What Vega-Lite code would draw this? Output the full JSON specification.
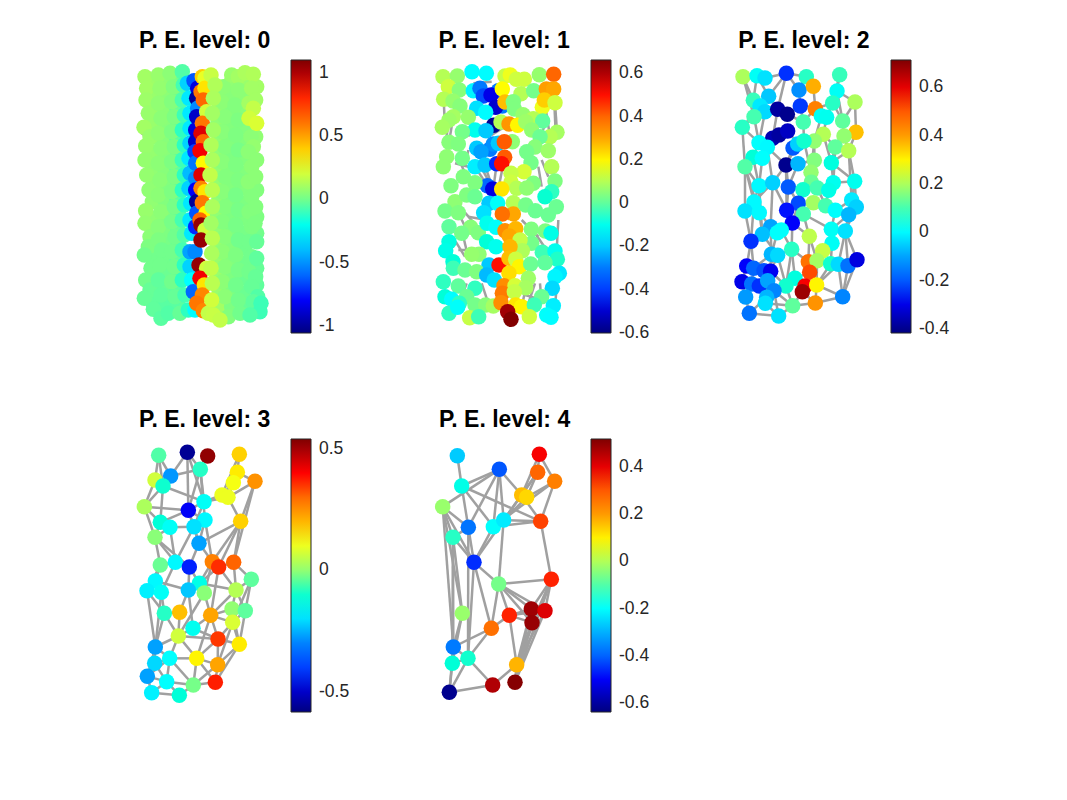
{
"$schema":"https://vega.github.io/schema/vega-lite/v6.json",
"background":"white",
"padding":{"left":135,"top":30,"right":0,"bottom":0},
"columns":3,
"spacing":{"row":106,"column":144},
"bounds":"flush",
"resolve":{"scale":{"color":"independent"},"legend":{"color":"independent"}},
"config":{"view":{"stroke":null},
"font":"Liberation Sans",
"title":{"font":"Liberation Sans","fontSize":23,"fontWeight":"bold","color":"#000000","anchor":"start","dx":4,"offset":7},
"legend":{"orient":"right","offset":0,"padding":0,"title":null,"gradientLength":273,"gradientThickness":20,"gradientStrokeColor":"#262626","gradientStrokeWidth":1,"labelFont":"Liberation Sans","labelFontSize":17.5,"labelColor":"#262626","labelOverlap":false},
"rule":{"color":"#a0a0a0","strokeWidth":2.5},
"point":{"filled":true,"opacity":1,"size":240,"strokeWidth":0}},
"datasets":{
"n0":[
{"x":82,"y":188,"v":0.09},{"x":84,"y":232,"v":0.08},{"x":80,"y":262,"v":0.08},{"x":84,"y":305,"v":0.08},{"x":82,"y":350,"v":0.07},{"x":85,"y":395,"v":0.07},{"x":82,"y":445,"v":0.06},{"x":85,"y":490,"v":0.06},{"x":82,"y":545,"v":0.06},{"x":85,"y":595,"v":0.06},{"x":84,"y":635,"v":0.04},{"x":82,"y":665,"v":0.02},{"x":82,"y":715,"v":0},{"x":84,"y":760,"v":-0.01},{"x":82,"y":800,"v":-0.02},{"x":84,"y":850,"v":-0.03},
{"x":122,"y":180,"v":0.06},{"x":124,"y":225,"v":0.05},{"x":120,"y":270,"v":0.05},{"x":124,"y":315,"v":0.04},{"x":120,"y":360,"v":0.04},{"x":124,"y":405,"v":0.04},{"x":120,"y":450,"v":0.04},{"x":124,"y":495,"v":0.03},{"x":120,"y":540,"v":0.03},{"x":124,"y":590,"v":0.03},{"x":122,"y":635,"v":0.02},{"x":122,"y":675,"v":0.01},{"x":124,"y":715,"v":0},{"x":120,"y":760,"v":-0.01},{"x":124,"y":805,"v":-0.02},{"x":122,"y":855,"v":-0.04},
{"x":158,"y":178,"v":0},{"x":160,"y":222,"v":-0.01},{"x":156,"y":265,"v":-0.02},{"x":160,"y":310,"v":-0.03},{"x":156,"y":355,"v":-0.04},{"x":160,"y":400,"v":-0.04},{"x":156,"y":445,"v":-0.03},{"x":160,"y":490,"v":-0.04},{"x":156,"y":535,"v":-0.04},{"x":160,"y":580,"v":-0.04},{"x":158,"y":625,"v":-0.02},{"x":160,"y":670,"v":-0.02},{"x":156,"y":715,"v":-0.03},{"x":160,"y":760,"v":-0.04},{"x":156,"y":805,"v":-0.04},{"x":158,"y":850,"v":-0.04},
{"x":60,"y":170,"v":0.1},{"x":65,"y":205,"v":0.1},{"x":63,"y":240,"v":0.09},{"x":70,"y":280,"v":0.08},{"x":57,"y":322,"v":0.1},{"x":75,"y":350,"v":0.08},{"x":62,"y":378,"v":0.08},{"x":60,"y":420,"v":0.07},{"x":65,"y":465,"v":0.07},{"x":72,"y":510,"v":0.06},{"x":62,"y":572,"v":0.08},{"x":60,"y":610,"v":0.07},{"x":75,"y":650,"v":0.05},{"x":70,"y":680,"v":0.02},{"x":58,"y":705,"v":0},{"x":78,"y":745,"v":0},{"x":62,"y":780,"v":0},{"x":75,"y":810,"v":-0.02},{"x":58,"y":835,"v":-0.02},{"x":85,"y":868,"v":-0.03},{"x":108,"y":895,"v":-0.04},
{"x":100,"y":165,"v":0.08},{"x":105,"y":205,"v":0.07},{"x":100,"y":250,"v":0.06},{"x":108,"y":295,"v":0.05},{"x":100,"y":340,"v":0.06},{"x":108,"y":385,"v":0.05},{"x":100,"y":430,"v":0.05},{"x":105,"y":480,"v":0.05},{"x":100,"y":525,"v":0.05},{"x":108,"y":575,"v":0.05},{"x":100,"y":620,"v":0.04},{"x":100,"y":660,"v":0.02},{"x":110,"y":690,"v":0},{"x":105,"y":735,"v":0},{"x":100,"y":780,"v":-0.03},{"x":108,"y":825,"v":-0.03},{"x":130,"y":880,"v":-0.05},
{"x":135,"y":160,"v":0.05},{"x":145,"y":200,"v":0.03},{"x":140,"y":245,"v":0.03},{"x":148,"y":290,"v":0.02},{"x":140,"y":335,"v":0.02},{"x":148,"y":380,"v":0.02},{"x":140,"y":425,"v":0.02},{"x":148,"y":470,"v":0.02},{"x":140,"y":515,"v":0.02},{"x":148,"y":560,"v":0.01},{"x":140,"y":605,"v":0.01},{"x":150,"y":650,"v":0},{"x":140,"y":695,"v":0},{"x":148,"y":740,"v":0},{"x":140,"y":785,"v":0},{"x":150,"y":830,"v":-0.02},{"x":165,"y":880,"v":-0.02},
{"x":172,"y":155,"v":-0.05},{"x":175,"y":195,"v":-0.07},{"x":172,"y":240,"v":-0.06},{"x":178,"y":285,"v":-0.08},{"x":172,"y":330,"v":-0.1},{"x":178,"y":375,"v":-0.1},{"x":172,"y":420,"v":-0.08},{"x":178,"y":465,"v":-0.1},{"x":172,"y":510,"v":-0.1},{"x":178,"y":555,"v":-0.1},{"x":172,"y":600,"v":-0.07},{"x":178,"y":645,"v":-0.05},{"x":172,"y":690,"v":-0.07},{"x":178,"y":735,"v":-0.1},{"x":172,"y":780,"v":-0.1},{"x":180,"y":825,"v":-0.07},{"x":190,"y":870,"v":-0.1},
{"x":187,"y":190,"v":-0.35},{"x":192,"y":235,"v":-0.3},{"x":195,"y":280,"v":-0.3},{"x":195,"y":325,"v":-0.3},{"x":195,"y":370,"v":-0.35},{"x":192,"y":415,"v":-0.3},{"x":195,"y":460,"v":-0.4},{"x":192,"y":505,"v":-0.35},{"x":197,"y":550,"v":-0.3},{"x":195,"y":600,"v":-0.3},{"x":200,"y":640,"v":-0.3},{"x":195,"y":695,"v":-0.45},{"x":195,"y":740,"v":-0.35},{"x":200,"y":780,"v":-0.25},{"x":205,"y":815,"v":-0.6},{"x":210,"y":870,"v":-0.25},
{"x":207,"y":182,"v":-0.65},{"x":218,"y":205,"v":-0.85},{"x":215,"y":235,"v":-1},{"x":218,"y":265,"v":-0.5},{"x":215,"y":290,"v":-0.9},{"x":212,"y":330,"v":-0.85},{"x":212,"y":365,"v":-0.9},{"x":210,"y":395,"v":-0.7},{"x":212,"y":430,"v":-0.55},{"x":212,"y":475,"v":-0.5},{"x":212,"y":510,"v":-0.8},{"x":215,"y":545,"v":-1},{"x":215,"y":580,"v":-0.65},{"x":212,"y":620,"v":-0.75},{"x":210,"y":695,"v":-0.5},
{"x":232,"y":170,"v":0.4},{"x":240,"y":175,"v":0.25},{"x":228,"y":215,"v":0.6},{"x":240,"y":205,"v":0.35},{"x":235,"y":240,"v":0.65},{"x":245,"y":275,"v":0.2},{"x":232,"y":310,"v":0.6},{"x":228,"y":340,"v":0.9},{"x":235,"y":365,"v":0.65},{"x":225,"y":392,"v":0.85},{"x":235,"y":430,"v":0.3},{"x":228,"y":465,"v":0.9},{"x":228,"y":505,"v":0.55},{"x":240,"y":515,"v":0.35},{"x":232,"y":548,"v":0.6},{"x":243,"y":580,"v":0.3},{"x":225,"y":600,"v":0.65},{"x":228,"y":615,"v":1.05},{"x":240,"y":630,"v":0.2},{"x":228,"y":660,"v":1.05},{"x":222,"y":735,"v":1.05},{"x":245,"y":745,"v":0.2},{"x":225,"y":775,"v":0.85},{"x":238,"y":795,"v":0.35},{"x":232,"y":825,"v":0.55},{"x":215,"y":850,"v":0.6},{"x":235,"y":872,"v":0.55},{"x":250,"y":880,"v":0.17},
{"x":280,"y":225,"v":0.08},{"x":282,"y":265,"v":0.07},{"x":278,"y":310,"v":0.06},{"x":282,"y":355,"v":0.06},{"x":278,"y":400,"v":0.06},{"x":282,"y":445,"v":0.06},{"x":278,"y":490,"v":0.07},{"x":282,"y":535,"v":0.06},{"x":278,"y":585,"v":0.06},{"x":282,"y":630,"v":0.06},{"x":278,"y":675,"v":0.07},{"x":282,"y":720,"v":0.08},{"x":278,"y":765,"v":0.08},{"x":282,"y":810,"v":0.08},{"x":280,"y":860,"v":0.1},
{"x":316,"y":190,"v":0.06},{"x":318,"y":230,"v":0.04},{"x":314,"y":275,"v":0.03},{"x":318,"y":315,"v":0.03},{"x":314,"y":360,"v":0.03},{"x":318,"y":405,"v":0.02},{"x":314,"y":450,"v":0.03},{"x":318,"y":495,"v":0.03},{"x":314,"y":540,"v":0.02},{"x":318,"y":590,"v":0.02},{"x":314,"y":635,"v":0.02},{"x":318,"y":680,"v":0.03},{"x":314,"y":720,"v":0.03},{"x":318,"y":765,"v":0.02},{"x":314,"y":810,"v":0.02},{"x":320,"y":860,"v":0.02},
{"x":356,"y":190,"v":0.08},{"x":358,"y":230,"v":0.05},{"x":354,"y":275,"v":0.04},{"x":358,"y":320,"v":0.03},{"x":354,"y":365,"v":0.03},{"x":358,"y":415,"v":0.03},{"x":354,"y":460,"v":0.03},{"x":358,"y":505,"v":0.03},{"x":354,"y":550,"v":0.02},{"x":358,"y":595,"v":0.02},{"x":354,"y":640,"v":0.01},{"x":358,"y":685,"v":0},{"x":354,"y":730,"v":0},{"x":358,"y":775,"v":-0.01},{"x":354,"y":820,"v":-0.01},{"x":358,"y":865,"v":-0.02},
{"x":395,"y":200,"v":0.1},{"x":392,"y":350,"v":0.06},{"x":395,"y":510,"v":0.03},{"x":395,"y":590,"v":0.02},{"x":395,"y":640,"v":0},{"x":395,"y":745,"v":-0.02},{"x":395,"y":795,"v":-0.03},
{"x":295,"y":200,"v":0.05},{"x":290,"y":245,"v":0.05},{"x":300,"y":290,"v":0.04},{"x":292,"y":335,"v":0.04},{"x":300,"y":380,"v":0.03},{"x":292,"y":425,"v":0.04},{"x":300,"y":470,"v":0.03},{"x":292,"y":515,"v":0.04},{"x":300,"y":560,"v":0.03},{"x":292,"y":605,"v":0.03},{"x":300,"y":650,"v":0.04},{"x":292,"y":695,"v":0.05},{"x":300,"y":740,"v":0.04},{"x":292,"y":785,"v":0.05},{"x":300,"y":830,"v":0.05},{"x":310,"y":890,"v":0.03},
{"x":258,"y":165,"v":0.18},{"x":270,"y":195,"v":0.13},{"x":265,"y":235,"v":0.12},{"x":262,"y":280,"v":0.1},{"x":265,"y":330,"v":0.1},{"x":258,"y":375,"v":0.13},{"x":262,"y":420,"v":0.12},{"x":255,"y":465,"v":0.17},{"x":262,"y":510,"v":0.15},{"x":262,"y":560,"v":0.12},{"x":258,"y":610,"v":0.1},{"x":262,"y":655,"v":0.15},{"x":260,"y":700,"v":0.12},{"x":258,"y":745,"v":0.17},{"x":262,"y":790,"v":0.15},{"x":260,"y":840,"v":0.2},{"x":265,"y":885,"v":0.18},{"x":285,"y":900,"v":0.17},
{"x":320,"y":165,"v":0.08},{"x":340,"y":170,"v":0.1},{"x":340,"y":210,"v":0.05},{"x":330,"y":255,"v":0.03},{"x":340,"y":300,"v":0.02},{"x":332,"y":345,"v":0.02},{"x":340,"y":390,"v":0.01},{"x":332,"y":435,"v":0.02},{"x":340,"y":480,"v":0.02},{"x":332,"y":525,"v":0.01},{"x":340,"y":570,"v":0.01},{"x":332,"y":615,"v":0.01},{"x":340,"y":660,"v":0},{"x":332,"y":705,"v":0.02},{"x":340,"y":750,"v":0.01},{"x":332,"y":795,"v":0},{"x":340,"y":840,"v":0},{"x":345,"y":880,"v":0},
{"x":360,"y":158,"v":0.12},{"x":385,"y":163,"v":0.13},{"x":380,"y":205,"v":0.1},{"x":372,"y":250,"v":0.1},{"x":392,"y":240,"v":0.1},{"x":378,"y":350,"v":0.05},{"x":385,"y":380,"v":0.07},{"x":370,"y":395,"v":0.05},{"x":395,"y":420,"v":0.05},{"x":380,"y":440,"v":0.05},{"x":370,"y":485,"v":0.05},{"x":392,"y":470,"v":0.05},{"x":380,"y":530,"v":0.03},{"x":372,"y":575,"v":0.03},{"x":392,"y":560,"v":0.03},{"x":380,"y":620,"v":0.02},{"x":390,"y":610,"v":0.02},{"x":372,"y":665,"v":0},{"x":395,"y":665,"v":-0.02},{"x":380,"y":710,"v":0},{"x":395,"y":715,"v":-0.03},{"x":372,"y":755,"v":0},{"x":392,"y":770,"v":-0.02},{"x":380,"y":800,"v":-0.02},{"x":398,"y":830,"v":-0.05},{"x":385,"y":845,"v":-0.03},{"x":408,"y":850,"v":-0.08},{"x":405,"y":875,"v":-0.08},{"x":375,"y":885,"v":-0.05},
{"x":385,"y":265,"v":0.17},{"x":372,"y":295,"v":0.2},{"x":395,"y":310,"v":0.22}
],
"e0":[{"xa":50,"ya":340,"xb":75,"yb":360},{"xa":95,"ya":668,"xb":125,"yb":668},{"xa":335,"ya":190,"xb":355,"yb":190},{"xa":130,"ya":870,"xb":120,"yb":880},{"xa":245,"ya":607,"xb":265,"yb":607},{"xa":385,"ya":828,"xb":405,"yb":828}],
"n1":[
{"x":54,"y":170,"v":0.1},{"x":97,"y":168,"v":0.06},{"x":141,"y":155,"v":-0.13},{"x":184,"y":160,"v":-0.13},{"x":240,"y":168,"v":0.12},{"x":256,"y":165,"v":0.17},{"x":274,"y":178,"v":0.13},{"x":298,"y":178,"v":0.13},{"x":343,"y":164,"v":0.06},{"x":386,"y":163,"v":0.4},
{"x":70,"y":200,"v":0.13},{"x":103,"y":210,"v":0.04},{"x":145,"y":212,"v":-0.14},{"x":165,"y":205,"v":-0.3},{"x":175,"y":228,"v":-0.38},{"x":220,"y":212,"v":-0.3},{"x":198,"y":225,"v":-0.47},{"x":232,"y":207,"v":0.19},{"x":288,"y":221,"v":0.1},{"x":326,"y":212,"v":0.02},{"x":364,"y":207,"v":0.31},{"x":386,"y":207,"v":0.3},
{"x":56,"y":238,"v":0.1},{"x":84,"y":243,"v":0.06},{"x":155,"y":265,"v":-0.17},{"x":232,"y":258,"v":-0.3},{"x":212,"y":262,"v":-0.5},{"x":240,"y":246,"v":0.27},{"x":265,"y":245,"v":0.03},{"x":352,"y":262,"v":0.17},{"x":358,"y":240,"v":0.25},{"x":390,"y":248,"v":0.13},
{"x":105,"y":258,"v":0.04},{"x":182,"y":277,"v":-0.13},{"x":268,"y":267,"v":0.03},{"x":294,"y":284,"v":0.06},{"x":325,"y":296,"v":0.1},{"x":353,"y":303,"v":0},
{"x":85,"y":290,"v":0.08},{"x":72,"y":300,"v":0.07},{"x":130,"y":292,"v":0.06},{"x":52,"y":322,"v":0.08},{"x":206,"y":316,"v":-0.58},{"x":228,"y":306,"v":0.1},{"x":252,"y":312,"v":0.32},{"x":278,"y":316,"v":0.2},{"x":150,"y":330,"v":-0.1},{"x":183,"y":332,"v":-0.2},{"x":302,"y":305,"v":0.07},
{"x":112,"y":335,"v":0.02},{"x":320,"y":330,"v":0.05},{"x":396,"y":337,"v":0.08},{"x":375,"y":350,"v":0.1},{"x":345,"y":350,"v":0.01},{"x":262,"y":365,"v":0.05},{"x":195,"y":388,"v":-0.3},{"x":205,"y":372,"v":-0.27},{"x":220,"y":370,"v":-0.2},{"x":238,"y":365,"v":0.42},{"x":72,"y":367,"v":0.04},{"x":100,"y":372,"v":0.03},{"x":155,"y":385,"v":-0.2},{"x":168,"y":395,"v":-0.25},{"x":330,"y":381,"v":0.04},{"x":370,"y":392,"v":0.07},{"x":305,"y":395,"v":0.02},
{"x":65,"y":410,"v":0.05},{"x":112,"y":415,"v":0.02},{"x":150,"y":440,"v":-0.15},{"x":180,"y":435,"v":-0.2},{"x":215,"y":431,"v":-0.42},{"x":239,"y":412,"v":0.42},{"x":230,"y":431,"v":0.5},{"x":55,"y":440,"v":0.05},{"x":380,"y":440,"v":0.1},{"x":318,"y":428,"v":0.02},{"x":297,"y":455,"v":0.14},{"x":258,"y":460,"v":0.12},
{"x":115,"y":470,"v":0.03},{"x":78,"y":497,"v":0.03},{"x":187,"y":497,"v":-0.33},{"x":203,"y":507,"v":-0.48},{"x":258,"y":487,"v":0.13},{"x":275,"y":505,"v":0.1},{"x":230,"y":507,"v":0.22},{"x":150,"y":488,"v":0.03},{"x":325,"y":490,"v":0.03},{"x":390,"y":483,"v":0.03},{"x":380,"y":515,"v":-0.04},{"x":360,"y":530,"v":-0.06},{"x":305,"y":504,"v":0.05},
{"x":90,"y":545,"v":0.05},{"x":125,"y":525,"v":0.03},{"x":150,"y":530,"v":0.01},{"x":192,"y":550,"v":-0.2},{"x":218,"y":550,"v":-0.12},{"x":265,"y":548,"v":0.1},{"x":302,"y":555,"v":0.02},{"x":60,"y":573,"v":0.02},{"x":100,"y":578,"v":0.03},{"x":176,"y":578,"v":-0.17},{"x":265,"y":582,"v":0.3},{"x":232,"y":582,"v":0.38},{"x":331,"y":572,"v":0.01},{"x":370,"y":585,"v":0.01},{"x":394,"y":560,"v":0.01},
{"x":72,"y":620,"v":0},{"x":137,"y":622,"v":0.04},{"x":110,"y":640,"v":0.02},{"x":160,"y":638,"v":0.03},{"x":186,"y":610,"v":-0.1},{"x":213,"y":622,"v":-0.12},{"x":240,"y":632,"v":0.33},{"x":272,"y":626,"v":0.28},{"x":319,"y":628,"v":0.03},{"x":361,"y":633,"v":0.03},{"x":378,"y":640,"v":-0.09},
{"x":72,"y":665,"v":-0.08},{"x":185,"y":665,"v":-0.07},{"x":253,"y":648,"v":0.3},{"x":320,"y":670,"v":0.02},{"x":285,"y":660,"v":0.12},{"x":213,"y":680,"v":-0.1},{"x":62,"y":692,"v":-0.09},{"x":162,"y":703,"v":0.05},{"x":140,"y":703,"v":0.06},{"x":292,"y":692,"v":0.09},{"x":255,"y":680,"v":0.28},{"x":352,"y":697,"v":-0.03},{"x":390,"y":693,"v":-0.1},{"x":397,"y":718,"v":-0.05},
{"x":84,"y":725,"v":-0.07},{"x":192,"y":735,"v":-0.2},{"x":222,"y":735,"v":0.5},{"x":252,"y":715,"v":0.27},{"x":272,"y":718,"v":0.13},{"x":283,"y":740,"v":0.2},{"x":317,"y":732,"v":0.01},{"x":360,"y":728,"v":0},
{"x":85,"y":745,"v":-0.03},{"x":120,"y":750,"v":0.01},{"x":155,"y":755,"v":0.03},{"x":185,"y":765,"v":-0.22},{"x":208,"y":780,"v":-0.17},{"x":252,"y":760,"v":0.23},{"x":403,"y":760,"v":-0.16},{"x":390,"y":770,"v":-0.14},{"x":310,"y":775,"v":0.07},
{"x":55,"y":785,"v":-0.04},{"x":100,"y":798,"v":0},{"x":237,"y":797,"v":0.33},{"x":270,"y":797,"v":0.14},{"x":302,"y":803,"v":0.08},{"x":382,"y":805,"v":-0.18},{"x":150,"y":805,"v":-0.04},
{"x":60,"y":830,"v":-0.07},{"x":80,"y":838,"v":-0.13},{"x":125,"y":830,"v":0.01},{"x":232,"y":820,"v":0.36},{"x":268,"y":815,"v":0.12},{"x":350,"y":830,"v":0.01},{"x":103,"y":850,"v":-0.04},{"x":150,"y":855,"v":0.02},{"x":182,"y":855,"v":0.04},{"x":205,"y":858,"v":0.08},{"x":228,"y":848,"v":0.33},{"x":272,"y":855,"v":0.22},{"x":290,"y":860,"v":0.2},{"x":328,"y":855,"v":-0.03},{"x":385,"y":857,"v":-0.15},
{"x":72,"y":880,"v":-0.04},{"x":98,"y":862,"v":-0.12},{"x":134,"y":893,"v":0.12},{"x":161,"y":890,"v":-0.03},{"x":248,"y":875,"v":0.62},{"x":258,"y":898,"v":0.66},{"x":313,"y":890,"v":0.13},{"x":365,"y":885,"v":-0.12},{"x":378,"y":892,"v":-0.13}
],
"e1":[{"xa":56,"ya":238,"xb":60,"yb":322},{"xa":390,"ya":248,"xb":396,"yb":337},{"xa":386,"ya":207,"xb":392,"yb":337},{"xa":358,"ya":240,"xb":375,"yb":350},{"xa":72,"ya":300,"xb":60,"yb":380},{"xa":85,"ya":290,"xb":72,"yb":367},{"xa":100,"ya":415,"xb":125,"yb":470},{"xa":150,"ya":440,"xb":187,"yb":497},{"xa":180,"ya":435,"xb":203,"yb":507},{"xa":215,"ya":431,"xb":205,"yb":507},{"xa":239,"ya":412,"xb":220,"yb":507},{"xa":120,"ya":578,"xb":165,"yb":630},{"xa":100,"ya":578,"xb":125,"yb":630},{"xa":92,"ya":665,"xb":120,"yb":710},{"xa":115,"ya":650,"xb":128,"yb":705},{"xa":400,"ya":600,"xb":395,"yb":690},{"xa":330,"ya":640,"xb":365,"yb":690},{"xa":395,"ya":800,"xb":390,"yb":860},{"xa":105,"ya":810,"xb":60,"yb":830},{"xa":300,"ya":815,"xb":290,"yb":860},{"xa":345,"ya":790,"xb":350,"yb":850},{"xa":145,"ya":190,"xb":200,"yb":185},{"xa":90,"ya":430,"xb":130,"yb":440},{"xa":170,"ya":445,"xb":195,"yb":490},{"xa":200,"ya":345,"xb":240,"yb":320},{"xa":130,"ya":590,"xb":185,"yb":600},{"xa":90,"ya":830,"xb":110,"yb":840},{"xa":300,"ya":825,"xb":335,"yb":835},{"xa":350,"ya":640,"xb":390,"yb":650},{"xa":330,"ya":395,"xb":365,"yb":300},{"xa":100,"ya":690,"xb":130,"yb":690},{"xa":340,"ya":440,"xb":350,"yb":500},{"xa":350,"ya":420,"xb":370,"yb":470},{"xa":290,"ya":600,"xb":340,"yb":650},{"xa":150,"ya":280,"xb":130,"yb":350},{"xa":125,"ya":790,"xb":110,"yb":830},{"xa":170,"ya":790,"xb":190,"yb":850},{"xa":330,"ya":790,"xb":310,"yb":850},{"xa":130,"ya":390,"xb":120,"yb":440}],
"n2":[
{"id":0,"x":54,"y":170,"v":0.2},{"id":1,"x":96,"y":167,"v":0.02},{"id":2,"x":120,"y":174,"v":-0.03},{"id":3,"x":184,"y":160,"v":-0.25},{"id":4,"x":244,"y":170,"v":0.08},{"id":5,"x":344,"y":164,"v":0.09},{"id":6,"x":222,"y":210,"v":-0.12},{"id":7,"x":265,"y":199,"v":0.38},{"id":8,"x":336,"y":213,"v":0.02},{"id":9,"x":131,"y":229,"v":-0.06},{"id":10,"x":85,"y":241,"v":0.09},{"id":11,"x":390,"y":246,"v":0.2},{"id":12,"x":323,"y":249,"v":0.08},{"id":13,"x":226,"y":258,"v":-0.24},{"id":14,"x":271,"y":266,"v":0.43},{"id":15,"x":105,"y":258,"v":-0.02},{"id":16,"x":120,"y":275,"v":-0.04},{"id":17,"x":158,"y":268,"v":-0.38},{"id":18,"x":187,"y":283,"v":-0.4},{"id":19,"x":87,"y":290,"v":0.1},{"id":20,"x":289,"y":288,"v":0.02},{"id":21,"x":305,"y":292,"v":0.03},{"id":22,"x":235,"y":306,"v":0.1},{"id":23,"x":353,"y":303,"v":0.12},{"id":24,"x":52,"y":322,"v":0.08},{"id":25,"x":393,"y":337,"v":0.36},{"id":26,"x":143,"y":355,"v":-0.36},{"id":27,"x":162,"y":345,"v":-0.38},{"id":28,"x":188,"y":333,"v":-0.34},{"id":29,"x":295,"y":343,"v":0.21},{"id":30,"x":268,"y":363,"v":0.17},{"id":31,"x":204,"y":384,"v":-0.2},{"id":32,"x":218,"y":372,"v":-0.05},{"id":33,"x":237,"y":363,"v":0.07},{"id":34,"x":357,"y":348,"v":0.17},{"id":35,"x":331,"y":381,"v":0.12},{"id":36,"x":371,"y":392,"v":0.21},{"id":37,"x":102,"y":368,"v":0.01},{"id":38,"x":127,"y":382,"v":0},{"id":39,"x":84,"y":412,"v":0.06},{"id":40,"x":112,"y":415,"v":0.01},{"id":41,"x":183,"y":435,"v":-0.4},{"id":42,"x":219,"y":431,"v":-0.08},{"id":43,"x":268,"y":421,"v":0.15},{"id":44,"x":60,"y":440,"v":0.11},{"id":45,"x":319,"y":428,"v":0.05},{"id":46,"x":258,"y":457,"v":0.17},{"id":47,"x":389,"y":484,"v":0.03},{"id":48,"x":102,"y":497,"v":0},{"id":49,"x":143,"y":488,"v":-0.05},{"id":50,"x":190,"y":501,"v":-0.2},{"id":51,"x":259,"y":487,"v":0.13},{"id":52,"x":325,"y":488,"v":0.03},{"id":53,"x":234,"y":509,"v":0.07},{"id":54,"x":277,"y":504,"v":0.1},{"id":55,"x":311,"y":511,"v":0.04},{"id":56,"x":380,"y":540,"v":-0.02},{"id":57,"x":394,"y":561,"v":-0.05},{"id":58,"x":87,"y":546,"v":0},{"id":59,"x":60,"y":573,"v":-0.03},{"id":60,"x":103,"y":578,"v":0},{"id":61,"x":220,"y":550,"v":-0.22},{"id":62,"x":185,"y":571,"v":-0.27},{"id":63,"x":265,"y":548,"v":0.19},{"id":64,"x":302,"y":557,"v":0.1},{"id":65,"x":331,"y":571,"v":0.01},{"id":66,"x":371,"y":584,"v":-0.08},{"id":67,"x":235,"y":582,"v":0.1},{"id":68,"x":202,"y":609,"v":-0.28},{"id":69,"x":137,"y":620,"v":-0.1},{"id":70,"x":112,"y":643,"v":-0.07},{"id":71,"x":169,"y":630,"v":0.01},{"id":72,"x":157,"y":638,"v":0.01},{"id":73,"x":319,"y":628,"v":0.02},{"id":74,"x":361,"y":633,"v":-0.03},{"id":75,"x":78,"y":664,"v":-0.25},{"id":76,"x":253,"y":649,"v":0.22},{"id":77,"x":321,"y":670,"v":0.02},{"id":78,"x":293,"y":692,"v":0.23},{"id":79,"x":200,"y":688,"v":0.08},{"id":80,"x":139,"y":703,"v":-0.08},{"id":81,"x":158,"y":706,"v":-0.04},{"id":82,"x":250,"y":725,"v":0.46},{"id":83,"x":276,"y":722,"v":0.19},{"id":84,"x":317,"y":731,"v":0.07},{"id":85,"x":340,"y":733,"v":-0.04},{"id":86,"x":369,"y":737,"v":-0.16},{"id":87,"x":396,"y":719,"v":-0.31},{"id":88,"x":65,"y":738,"v":-0.28},{"id":89,"x":86,"y":745,"v":-0.18},{"id":90,"x":117,"y":752,"v":-0.21},{"id":91,"x":137,"y":754,"v":-0.29},{"id":92,"x":254,"y":757,"v":0.52},{"id":93,"x":210,"y":775,"v":0.05},{"id":94,"x":51,"y":785,"v":-0.3},{"id":95,"x":80,"y":792,"v":-0.16},{"id":96,"x":103,"y":798,"v":-0.25},{"id":97,"x":128,"y":782,"v":-0.1},{"id":98,"x":183,"y":798,"v":0.07},{"id":99,"x":240,"y":798,"v":0.58},{"id":100,"x":275,"y":795,"v":0.3},{"id":101,"x":232,"y":815,"v":0.68},{"id":102,"x":147,"y":812,"v":-0.13},{"id":103,"x":62,"y":831,"v":-0.11},{"id":104,"x":125,"y":832,"v":-0.08},{"id":105,"x":121,"y":850,"v":-0.03},{"id":106,"x":353,"y":830,"v":-0.13},{"id":107,"x":271,"y":849,"v":0.41},{"id":108,"x":203,"y":857,"v":0.12},{"id":109,"x":73,"y":880,"v":-0.16},{"id":110,"x":161,"y":888,"v":-0.03}
],
"e2":[{"a":0,"b":10},{"a":0,"b":19},{"a":1,"b":9},{"a":1,"b":10},{"a":2,"b":3},{"a":3,"b":6},{"a":3,"b":4},{"a":3,"b":9},{"a":3,"b":17},{"a":4,"b":6},{"a":4,"b":7},{"a":5,"b":8},{"a":5,"b":12},{"a":6,"b":7},{"a":6,"b":13},{"a":7,"b":14},{"a":8,"b":11},{"a":8,"b":12},{"a":8,"b":23},{"a":11,"b":23},{"a":11,"b":25},{"a":12,"b":14},{"a":12,"b":23},{"a":9,"b":17},{"a":9,"b":15},{"a":10,"b":19},{"a":10,"b":16},{"a":13,"b":18},{"a":13,"b":22},{"a":14,"b":22},{"a":14,"b":20},{"a":17,"b":26},{"a":18,"b":22},{"a":19,"b":24},{"a":19,"b":37},{"a":24,"b":37},{"a":24,"b":44},{"a":37,"b":39},{"a":38,"b":41},{"a":38,"b":49},{"a":39,"b":44},{"a":39,"b":48},{"a":40,"b":48},{"a":44,"b":48},{"a":44,"b":59},{"a":28,"b":32},{"a":22,"b":33},{"a":29,"b":30},{"a":29,"b":35},{"a":29,"b":45},{"a":23,"b":34},{"a":25,"b":36},{"a":34,"b":35},{"a":34,"b":36},{"a":36,"b":45},{"a":36,"b":47},{"a":36,"b":56},{"a":35,"b":45},{"a":30,"b":43},{"a":43,"b":46},{"a":43,"b":42},{"a":41,"b":50},{"a":42,"b":50},{"a":41,"b":49},{"a":45,"b":52},{"a":45,"b":47},{"a":47,"b":56},{"a":47,"b":57},{"a":46,"b":51},{"a":46,"b":53},{"a":49,"b":48},{"a":49,"b":58},{"a":50,"b":53},{"a":50,"b":61},{"a":50,"b":62},{"a":51,"b":54},{"a":52,"b":55},{"a":54,"b":64},{"a":55,"b":64},{"a":56,"b":65},{"a":57,"b":66},{"a":57,"b":74},{"a":56,"b":66},{"a":48,"b":58},{"a":58,"b":60},{"a":59,"b":60},{"a":59,"b":75},{"a":60,"b":69},{"a":60,"b":70},{"a":61,"b":62},{"a":61,"b":67},{"a":62,"b":68},{"a":63,"b":67},{"a":63,"b":64},{"a":64,"b":65},{"a":65,"b":73},{"a":66,"b":74},{"a":66,"b":73},{"a":67,"b":73},{"a":67,"b":76},{"a":68,"b":71},{"a":68,"b":76},{"a":68,"b":79},{"a":69,"b":75},{"a":69,"b":80},{"a":70,"b":75},{"a":70,"b":81},{"a":71,"b":79},{"a":72,"b":80},{"a":73,"b":77},{"a":74,"b":86},{"a":74,"b":87},{"a":74,"b":85},{"a":76,"b":83},{"a":76,"b":82},{"a":77,"b":78},{"a":77,"b":84},{"a":78,"b":83},{"a":79,"b":82},{"a":79,"b":81},{"a":79,"b":93},{"a":79,"b":98},{"a":80,"b":89},{"a":81,"b":90},{"a":82,"b":92},{"a":83,"b":92},{"a":84,"b":100},{"a":85,"b":100},{"a":85,"b":106},{"a":86,"b":106},{"a":87,"b":106},{"a":88,"b":94},{"a":88,"b":89},{"a":89,"b":95},{"a":90,"b":97},{"a":91,"b":98},{"a":92,"b":93},{"a":92,"b":99},{"a":93,"b":98},{"a":93,"b":101},{"a":94,"b":103},{"a":95,"b":103},{"a":96,"b":104},{"a":97,"b":104},{"a":98,"b":108},{"a":99,"b":100},{"a":100,"b":107},{"a":100,"b":106},{"a":101,"b":107},{"a":101,"b":108},{"a":102,"b":110},{"a":102,"b":108},{"a":103,"b":109},{"a":104,"b":109},{"a":105,"b":110},{"a":105,"b":108},{"a":106,"b":107},{"a":107,"b":108},{"a":108,"b":110},{"a":109,"b":110},{"a":75,"b":88},{"a":75,"b":89},{"a":44,"b":58},{"a":48,"b":60},{"a":58,"b":59},{"a":38,"b":40},{"a":81,"b":91},{"a":91,"b":102},{"a":80,"b":91},{"a":83,"b":100},{"a":77,"b":83},{"a":46,"b":30},{"a":33,"b":46},{"a":32,"b":41},{"a":31,"b":41},{"a":35,"b":52},{"a":52,"b":47},{"a":21,"b":29},{"a":20,"b":30},{"a":21,"b":12},{"a":28,"b":38},{"a":27,"b":38},{"a":26,"b":40},{"a":26,"b":37},{"a":16,"b":37},{"a":15,"b":24},{"a":44,"b":60},{"a":49,"b":69},{"a":48,"b":70},{"a":53,"b":68},{"a":49,"b":62},{"a":41,"b":62},{"a":58,"b":75},{"a":102,"b":98},{"a":81,"b":98}],
"n3":[
{"id":0,"x":101,"y":166,"v":-0.06},{"id":1,"x":187,"y":157,"v":-0.56},{"id":2,"x":248,"y":168,"v":0.52},{"id":3,"x":343,"y":163,"v":0.17},{"id":4,"x":226,"y":208,"v":-0.09},{"id":5,"x":337,"y":217,"v":0.14},{"id":6,"x":137,"y":228,"v":-0.28},{"id":7,"x":90,"y":240,"v":0.07},{"id":8,"x":114,"y":258,"v":-0.1},{"id":9,"x":325,"y":248,"v":0.11},{"id":10,"x":390,"y":244,"v":0.24},{"id":11,"x":291,"y":285,"v":0.1},{"id":12,"x":309,"y":292,"v":0.1},{"id":13,"x":58,"y":320,"v":0.03},{"id":14,"x":237,"y":305,"v":-0.15},{"id":15,"x":190,"y":331,"v":-0.45},{"id":16,"x":240,"y":360,"v":-0.17},{"id":17,"x":106,"y":367,"v":-0.11},{"id":18,"x":135,"y":382,"v":-0.15},{"id":19,"x":207,"y":380,"v":-0.2},{"id":20,"x":347,"y":364,"v":0.17},{"id":21,"x":90,"y":412,"v":-0.01},{"id":22,"x":222,"y":430,"v":-0.27},{"id":23,"x":106,"y":495,"v":-0.04},{"id":24,"x":151,"y":487,"v":-0.17},{"id":25,"x":193,"y":501,"v":-0.43},{"id":26,"x":262,"y":485,"v":0.26},{"id":27,"x":326,"y":487,"v":0.31},{"id":28,"x":281,"y":501,"v":0.38},{"id":29,"x":379,"y":538,"v":-0.05},{"id":30,"x":91,"y":543,"v":-0.17},{"id":31,"x":223,"y":550,"v":-0.13},{"id":32,"x":66,"y":572,"v":-0.18},{"id":33,"x":190,"y":570,"v":-0.23},{"id":34,"x":109,"y":577,"v":-0.15},{"id":35,"x":238,"y":579,"v":-0.01},{"id":36,"x":333,"y":570,"v":0.04},{"id":37,"x":321,"y":627,"v":0},{"id":38,"x":361,"y":632,"v":-0.05},{"id":39,"x":164,"y":637,"v":0.19},{"id":40,"x":118,"y":640,"v":-0.09},{"id":41,"x":257,"y":646,"v":0.22},{"id":42,"x":323,"y":667,"v":0.08},{"id":43,"x":204,"y":685,"v":-0.14},{"id":44,"x":160,"y":708,"v":0.07},{"id":45,"x":279,"y":717,"v":0.37},{"id":46,"x":343,"y":733,"v":0.14},{"id":47,"x":91,"y":741,"v":-0.27},{"id":48,"x":134,"y":775,"v":-0.16},{"id":49,"x":89,"y":790,"v":-0.21},{"id":50,"x":215,"y":775,"v":0.13},{"id":51,"x":278,"y":794,"v":0.22},{"id":52,"x":67,"y":829,"v":-0.27},{"id":53,"x":125,"y":845,"v":-0.16},{"id":54,"x":205,"y":855,"v":-0.03},{"id":55,"x":271,"y":847,"v":0.39},{"id":56,"x":80,"y":878,"v":-0.18},{"id":57,"x":163,"y":886,"v":-0.11}
],
"e3":[{"a":0,"b":7},{"a":0,"b":8},{"a":1,"b":4},{"a":1,"b":6},{"a":1,"b":15},{"a":1,"b":14},{"a":2,"b":4},{"a":0,"b":6},{"a":6,"b":8},{"a":6,"b":4},{"a":4,"b":14},{"a":4,"b":16},{"a":4,"b":15},{"a":3,"b":5},{"a":3,"b":11},{"a":5,"b":9},{"a":5,"b":10},{"a":9,"b":11},{"a":9,"b":12},{"a":10,"b":20},{"a":10,"b":12},{"a":10,"b":27},{"a":7,"b":8},{"a":7,"b":13},{"a":8,"b":13},{"a":8,"b":17},{"a":8,"b":14},{"a":13,"b":17},{"a":13,"b":21},{"a":13,"b":15},{"a":14,"b":11},{"a":14,"b":12},{"a":14,"b":15},{"a":14,"b":19},{"a":15,"b":17},{"a":15,"b":19},{"a":15,"b":16},{"a":15,"b":22},{"a":16,"b":22},{"a":16,"b":26},{"a":18,"b":17},{"a":18,"b":21},{"a":18,"b":24},{"a":18,"b":19},{"a":17,"b":21},{"a":19,"b":22},{"a":19,"b":24},{"a":20,"b":12},{"a":20,"b":22},{"a":20,"b":27},{"a":20,"b":26},{"a":20,"b":28},{"a":21,"b":23},{"a":21,"b":24},{"a":21,"b":25},{"a":22,"b":25},{"a":22,"b":26},{"a":23,"b":30},{"a":23,"b":24},{"a":23,"b":32},{"a":24,"b":25},{"a":25,"b":31},{"a":25,"b":33},{"a":24,"b":34},{"a":26,"b":28},{"a":26,"b":31},{"a":26,"b":35},{"a":27,"b":28},{"a":27,"b":29},{"a":27,"b":36},{"a":28,"b":31},{"a":28,"b":36},{"a":28,"b":41},{"a":29,"b":36},{"a":29,"b":38},{"a":29,"b":42},{"a":30,"b":32},{"a":30,"b":34},{"a":30,"b":33},{"a":31,"b":33},{"a":31,"b":35},{"a":31,"b":36},{"a":32,"b":40},{"a":32,"b":47},{"a":34,"b":40},{"a":34,"b":47},{"a":33,"b":39},{"a":33,"b":43},{"a":35,"b":41},{"a":35,"b":44},{"a":36,"b":37},{"a":36,"b":38},{"a":36,"b":41},{"a":37,"b":38},{"a":37,"b":41},{"a":37,"b":42},{"a":37,"b":46},{"a":38,"b":42},{"a":38,"b":46},{"a":39,"b":40},{"a":39,"b":44},{"a":40,"b":44},{"a":40,"b":47},{"a":41,"b":42},{"a":41,"b":43},{"a":41,"b":45},{"a":41,"b":50},{"a":42,"b":45},{"a":42,"b":46},{"a":42,"b":51},{"a":43,"b":44},{"a":43,"b":45},{"a":44,"b":45},{"a":44,"b":47},{"a":44,"b":48},{"a":44,"b":50},{"a":45,"b":46},{"a":45,"b":50},{"a":45,"b":51},{"a":46,"b":51},{"a":46,"b":55},{"a":47,"b":48},{"a":47,"b":49},{"a":47,"b":52},{"a":48,"b":49},{"a":48,"b":50},{"a":48,"b":53},{"a":48,"b":54},{"a":49,"b":52},{"a":49,"b":53},{"a":50,"b":51},{"a":50,"b":54},{"a":50,"b":55},{"a":51,"b":54},{"a":51,"b":55},{"a":52,"b":53},{"a":52,"b":56},{"a":53,"b":54},{"a":53,"b":56},{"a":53,"b":57},{"a":54,"b":55},{"a":54,"b":57},{"a":56,"b":57},{"a":48,"b":52}],
"n4":[
{"id":0,"x":97,"y":167,"v":-0.27},{"id":1,"x":223,"y":208,"v":-0.42},{"id":2,"x":343,"y":163,"v":0.38},{"id":3,"x":338,"y":217,"v":0.28},{"id":4,"x":389,"y":244,"v":0.23},{"id":5,"x":110,"y":258,"v":-0.17},{"id":6,"x":290,"y":285,"v":0.16},{"id":7,"x":305,"y":292,"v":0.13},{"id":8,"x":53,"y":320,"v":-0.03},{"id":9,"x":347,"y":364,"v":0.33},{"id":10,"x":205,"y":380,"v":-0.2},{"id":11,"x":236,"y":360,"v":-0.23},{"id":12,"x":130,"y":382,"v":-0.37},{"id":13,"x":84,"y":412,"v":-0.13},{"id":14,"x":147,"y":487,"v":-0.47},{"id":15,"x":379,"y":538,"v":0.36},{"id":16,"x":221,"y":552,"v":-0.07},{"id":17,"x":319,"y":627,"v":0.48},{"id":18,"x":360,"y":632,"v":0.41},{"id":19,"x":253,"y":646,"v":0.36},{"id":20,"x":321,"y":668,"v":0.49},{"id":21,"x":112,"y":640,"v":-0.03},{"id":22,"x":199,"y":685,"v":0.26},{"id":23,"x":85,"y":741,"v":-0.36},{"id":24,"x":82,"y":790,"v":-0.15},{"id":25,"x":129,"y":775,"v":-0.14},{"id":26,"x":275,"y":794,"v":0.17},{"id":27,"x":270,"y":847,"v":0.51},{"id":28,"x":203,"y":855,"v":0.46},{"id":29,"x":73,"y":877,"v":-0.62}
],
"e4":[{"a":0,"b":5},{"a":5,"b":1},{"a":8,"b":1},{"a":5,"b":12},{"a":5,"b":10},{"a":5,"b":9},{"a":1,"b":10},{"a":1,"b":11},{"a":1,"b":6},{"a":1,"b":12},{"a":8,"b":12},{"a":8,"b":13},{"a":8,"b":14},{"a":8,"b":21},{"a":8,"b":23},{"a":12,"b":14},{"a":12,"b":13},{"a":13,"b":14},{"a":13,"b":21},{"a":13,"b":23},{"a":12,"b":25},{"a":14,"b":25},{"a":14,"b":16},{"a":14,"b":22},{"a":11,"b":14},{"a":10,"b":14},{"a":11,"b":6},{"a":11,"b":7},{"a":11,"b":9},{"a":10,"b":9},{"a":11,"b":3},{"a":10,"b":4},{"a":11,"b":16},{"a":9,"b":6},{"a":9,"b":4},{"a":9,"b":15},{"a":6,"b":2},{"a":6,"b":3},{"a":3,"b":2},{"a":2,"b":4},{"a":7,"b":4},{"a":3,"b":7},{"a":16,"b":15},{"a":16,"b":17},{"a":16,"b":18},{"a":16,"b":19},{"a":16,"b":20},{"a":16,"b":22},{"a":15,"b":17},{"a":15,"b":18},{"a":15,"b":26},{"a":15,"b":27},{"a":15,"b":20},{"a":18,"b":26},{"a":18,"b":27},{"a":17,"b":26},{"a":17,"b":19},{"a":20,"b":19},{"a":18,"b":19},{"a":19,"b":22},{"a":19,"b":26},{"a":20,"b":26},{"a":20,"b":27},{"a":17,"b":27},{"a":22,"b":23},{"a":22,"b":25},{"a":21,"b":23},{"a":21,"b":24},{"a":13,"b":24},{"a":23,"b":25},{"a":23,"b":24},{"a":23,"b":29},{"a":25,"b":29},{"a":25,"b":24},{"a":25,"b":28},{"a":26,"b":28},{"a":26,"b":27},{"a":28,"b":29},{"a":24,"b":29}]
},
"concat":[
{"width":156,"height":273,"title":{"text":"P. E. level: 0"},"layer":[
{"data":{"name":"e0"},"mark":"rule","encoding":{"x":{"field":"xa","type":"quantitative","axis":null,"scale":{"domain":[30,498],"nice":false,"zero":false}},"y":{"field":"ya","type":"quantitative","axis":null,"scale":{"domain":[120,939],"nice":false,"zero":false,"reverse":true}},"x2":{"field":"xb"},"y2":{"field":"yb"}}},
{"data":{"name":"n0"},"mark":{"type":"point"},"encoding":{"x":{"field":"x","type":"quantitative"},"y":{"field":"y","type":"quantitative"},"color":{"field":"v","type":"quantitative","scale":{"domain":[-1.055,1.1],"nice":false,"range":["#000080","#0000ff","#0080ff","#00ffff","#80ff80","#ffff00","#ff8000","#ff0000","#800000"]},"legend":{"values":[-1,-0.5,0,0.5,1],"labelExpr":"''+datum.value","labelOffset":8}}}}
]},
{"width":156,"height":273,"title":{"text":"P. E. level: 1"},"layer":[
{"data":{"name":"e1"},"mark":"rule","encoding":{"x":{"field":"xa","type":"quantitative","axis":null,"scale":{"domain":[30,498],"nice":false,"zero":false}},"y":{"field":"ya","type":"quantitative","axis":null,"scale":{"domain":[120,939],"nice":false,"zero":false,"reverse":true}},"x2":{"field":"xb"},"y2":{"field":"yb"}}},
{"data":{"name":"n1"},"mark":{"type":"point"},"encoding":{"x":{"field":"x","type":"quantitative"},"y":{"field":"y","type":"quantitative"},"color":{"field":"v","type":"quantitative","scale":{"domain":[-0.601,0.662],"nice":false,"range":["#000080","#0000ff","#0080ff","#00ffff","#80ff80","#ffff00","#ff8000","#ff0000","#800000"]},"legend":{"values":[-0.6,-0.4,-0.2,0,0.2,0.4,0.6],"labelExpr":"''+datum.value","labelOffset":8}}}}
]},
{"width":156,"height":273,"title":{"text":"P. E. level: 2"},"layer":[
{"data":{"name":"e2"},"transform":[{"lookup":"a","from":{"data":{"name":"n2"},"key":"id","fields":["x","y"]},"as":["xa","ya"]},{"lookup":"b","from":{"data":{"name":"n2"},"key":"id","fields":["x","y"]},"as":["xb","yb"]}],"mark":"rule","encoding":{"x":{"field":"xa","type":"quantitative","axis":null,"scale":{"domain":[30,498],"nice":false,"zero":false}},"y":{"field":"ya","type":"quantitative","axis":null,"scale":{"domain":[120,939],"nice":false,"zero":false,"reverse":true}},"x2":{"field":"xb"},"y2":{"field":"yb"}}},
{"data":{"name":"n2"},"mark":{"type":"point"},"encoding":{"x":{"field":"x","type":"quantitative"},"y":{"field":"y","type":"quantitative"},"color":{"field":"v","type":"quantitative","scale":{"domain":[-0.417,0.713],"nice":false,"range":["#000080","#0000ff","#0080ff","#00ffff","#80ff80","#ffff00","#ff8000","#ff0000","#800000"]},"legend":{"values":[-0.4,-0.2,0,0.2,0.4,0.6],"labelExpr":"''+datum.value","labelOffset":8}}}}
]},
{"width":156,"height":273,"title":{"text":"P. E. level: 3"},"layer":[
{"data":{"name":"e3"},"transform":[{"lookup":"a","from":{"data":{"name":"n3"},"key":"id","fields":["x","y"]},"as":["xa","ya"]},{"lookup":"b","from":{"data":{"name":"n3"},"key":"id","fields":["x","y"]},"as":["xb","yb"]}],"mark":"rule","encoding":{"x":{"field":"xa","type":"quantitative","axis":null,"scale":{"domain":[30,498],"nice":false,"zero":false}},"y":{"field":"ya","type":"quantitative","axis":null,"scale":{"domain":[117,936],"nice":false,"zero":false,"reverse":true}},"x2":{"field":"xb"},"y2":{"field":"yb"}}},
{"data":{"name":"n3"},"mark":{"type":"point"},"encoding":{"x":{"field":"x","type":"quantitative"},"y":{"field":"y","type":"quantitative"},"color":{"field":"v","type":"quantitative","scale":{"domain":[-0.583,0.54],"nice":false,"range":["#000080","#0000ff","#0080ff","#00ffff","#80ff80","#ffff00","#ff8000","#ff0000","#800000"]},"legend":{"values":[-0.5,0,0.5],"labelExpr":"''+datum.value","labelOffset":8}}}}
]},
{"width":156,"height":273,"title":{"text":"P. E. level: 4"},"layer":[
{"data":{"name":"e4"},"transform":[{"lookup":"a","from":{"data":{"name":"n4"},"key":"id","fields":["x","y"]},"as":["xa","ya"]},{"lookup":"b","from":{"data":{"name":"n4"},"key":"id","fields":["x","y"]},"as":["xb","yb"]}],"mark":"rule","encoding":{"x":{"field":"xa","type":"quantitative","axis":null,"scale":{"domain":[30,498],"nice":false,"zero":false}},"y":{"field":"ya","type":"quantitative","axis":null,"scale":{"domain":[117,936],"nice":false,"zero":false,"reverse":true}},"x2":{"field":"xb"},"y2":{"field":"yb"}}},
{"data":{"name":"n4"},"mark":{"type":"point"},"encoding":{"x":{"field":"x","type":"quantitative"},"y":{"field":"y","type":"quantitative"},"color":{"field":"v","type":"quantitative","scale":{"domain":[-0.637,0.517],"nice":false,"range":["#000080","#0000ff","#0080ff","#00ffff","#80ff80","#ffff00","#ff8000","#ff0000","#800000"]},"legend":{"values":[-0.6,-0.4,-0.2,0,0.2,0.4],"labelExpr":"''+datum.value","labelOffset":8}}}}
]}
]
}
